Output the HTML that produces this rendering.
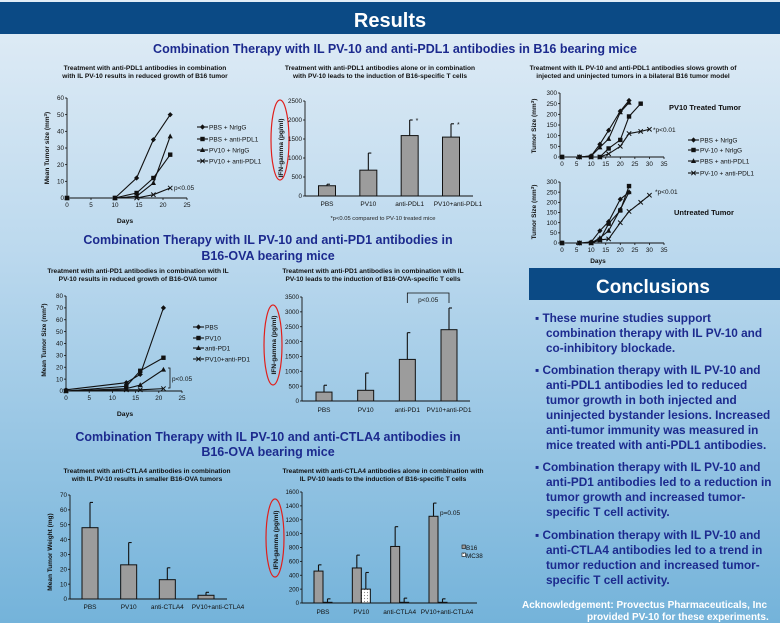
<!DOCTYPE html>
<html><head><meta charset="utf-8">
<style>
html,body{margin:0;padding:0;}
body{width:780px;height:623px;overflow:hidden;font-family:"Liberation Sans",Arial,sans-serif;}
svg text{font-family:"Liberation Sans",Arial,sans-serif;}
</style></head>
<body>
<svg id="poster" width="780" height="623" viewBox="0 0 780 623" xmlns="http://www.w3.org/2000/svg">
<defs>
<linearGradient id="bg" x1="0" y1="0" x2="0" y2="1">
<stop offset="0" stop-color="#e2edf6"/><stop offset="0.4" stop-color="#bcd9ee"/><stop offset="1" stop-color="#74b3da"/>
</linearGradient>
<pattern id="dots" width="3" height="3" patternUnits="userSpaceOnUse"><rect width="3" height="3" fill="#fff"/><circle cx="1.5" cy="1.5" r="0.6" fill="#888"/></pattern>
</defs>
<rect width="780" height="623" fill="url(#bg)"/>
<rect x="0" y="2" width="780" height="32" fill="#0b4a85"/>
<text x="390" y="27" text-anchor="middle" font-size="20" font-weight="bold" fill="#fff">Results</text>
<text x="395" y="53" text-anchor="middle" font-size="12.5" font-weight="bold" fill="#1c2a8e">Combination Therapy with IL PV-10 and anti-PDL1 antibodies in B16 bearing mice</text>
<text x="268" y="244" text-anchor="middle" font-size="12.5" font-weight="bold" fill="#1c2a8e">Combination Therapy with IL PV-10 and anti-PD1 antibodies in</text>
<text x="268" y="260" text-anchor="middle" font-size="12.5" font-weight="bold" fill="#1c2a8e">B16-OVA bearing mice</text>
<text x="268" y="441" text-anchor="middle" font-size="12.5" font-weight="bold" fill="#1c2a8e">Combination Therapy with IL PV-10 and anti-CTLA4 antibodies in</text>
<text x="268" y="456" text-anchor="middle" font-size="12.5" font-weight="bold" fill="#1c2a8e">B16-OVA bearing mice</text>

<g font-size="6.6" font-weight="bold" fill="#111" text-anchor="middle">
<text x="145" y="70">Treatment with anti-PDL1 antibodies in combination</text>
<text x="145" y="78">with IL PV-10 results in reduced growth of B16 tumor</text>
<text x="380" y="70">Treatment with anti-PDL1 antibodies alone or in combination</text>
<text x="380" y="78">with PV-10 leads to the induction of B16-specific T cells</text>
<text x="633" y="70">Treatment with IL PV-10 and anti-PDL1 antibodies slows growth of</text>
<text x="633" y="78">injected and uninjected tumors in a bilateral B16 tumor model</text>
<text x="138" y="273">Treatment with anti-PD1 antibodies in combination with IL</text>
<text x="138" y="281">PV-10 results in reduced growth of B16-OVA tumor</text>
<text x="373" y="273">Treatment with anti-PD1 antibodies in combination with IL</text>
<text x="373" y="281">PV-10 leads to the induction of B16-OVA-specific T cells</text>
<text x="147" y="473">Treatment with anti-CTLA4 antibodies in combination</text>
<text x="147" y="481">with IL PV-10 results in smaller B16-OVA tumors</text>
<text x="383" y="473">Treatment with anti-CTLA4 antibodies alone in combination with</text>
<text x="383" y="481">IL PV-10 leads to the induction of B16-specific T cells</text>
</g>

<g fill="none" stroke="#e0201c" stroke-width="1.2">
<ellipse cx="280" cy="140" rx="9" ry="40"/>
<ellipse cx="273" cy="345" rx="9" ry="40"/>
<ellipse cx="275" cy="538" rx="9" ry="39"/>
</g>

<g font-size="7.5" font-weight="bold" fill="#111">
<text x="669" y="110">PV10 Treated Tumor</text>
<text x="674" y="215">Untreated Tumor</text>
</g>
<text x="383" y="220" text-anchor="middle" font-size="5.8" fill="#222">*p&lt;0.05 compared to PV-10 treated mice</text>

<rect x="529" y="268" width="251" height="32" fill="#0b4a85"/>
<text x="653" y="293" text-anchor="middle" font-size="19" font-weight="bold" fill="#fff">Conclusions</text>
<g font-size="11.8" font-weight="bold" fill="#1c2a8e">
<text x="535" y="322">▪ These murine studies support</text>
<text x="546" y="337">combination therapy with IL PV-10 and</text>
<text x="546" y="352">co-inhibitory blockade.</text>
<text x="535" y="374">▪ Combination therapy with IL PV-10 and</text>
<text x="546" y="389">anti-PDL1 antibodies led to reduced</text>
<text x="546" y="404">tumor growth in both injected and</text>
<text x="546" y="419">uninjected bystander lesions.  Increased</text>
<text x="546" y="434">anti-tumor immunity was measured in</text>
<text x="546" y="449">mice treated with anti-PDL1 antibodies.</text>
<text x="535" y="471">▪ Combination therapy with IL PV-10 and</text>
<text x="546" y="486">anti-PD1 antibodies led to a reduction in</text>
<text x="546" y="501">tumor growth and increased tumor-</text>
<text x="546" y="516">specific T cell activity.</text>
<text x="535" y="539">▪ Combination therapy with IL PV-10 and</text>
<text x="546" y="554">anti-CTLA4 antibodies led to a trend in</text>
<text x="546" y="569">tumor reduction and increased tumor-</text>
<text x="546" y="584">specific T cell activity.</text>
</g>
<g font-size="10" font-weight="bold" fill="#fff">
<text x="522" y="608">Acknowledgement: Provectus Pharmaceuticals, Inc</text>
<text x="587" y="620">provided  PV-10 for these experiments.</text>
</g>
<g id="charts"></g>
</svg>
<script>
// ---- data ----
const c1Labels = ["PBS + NrlgG","PBS + anti-PDL1","PV10 + NrlgG","PV10 + anti-PDL1"];
const c1Days = [0,10,14.5,18,21.5];
const c1S1 = [0,0,12,35,50];
const c1S2 = [0,0,3,12,26];
const c1S3 = [0,0,1,9,37];
const c1S4 = [0,0,0,2,6];
const c1XTicks = [0,5,10,15,20,25];
const c1YTicks = [0,10,20,30,40,50,60];

const c2Cats = ["PBS","PV10","anti-PDL1","PV10+anti-PDL1"];
const c2Vals = [270,680,1590,1550];
const c2Err = [310,1130,2000,1900];
const c2YTicks = [0,500,1000,1500,2000,2500];

const c3Labels = ["PBS + NrlgG","PV-10 + NrlgG","PBS + anti-PDL1","PV-10 + anti-PDL1"];
const c3XTicks = [0,5,10,15,20,25,30,35];
const c3YTicks = [0,50,100,150,200,250,300];
const c3aDays1 = [0,6,10,13,16,20,23];
const c3aS1 = [0,0,5,60,125,215,265];
const c3aDays2 = [0,6,10,13,16,20,23,27];
const c3aS2 = [0,0,0,0,40,80,190,250];
const c3aDays3 = [0,6,10,13,16,20,23];
const c3aS3 = [0,0,5,45,85,210,255];
const c3aDays4 = [0,6,10,13,16,20,23,27,30];
const c3aS4 = [0,0,0,0,15,50,110,120,130];
const c3bS1 = [0,0,5,60,105,215,250];
const c3bDays2 = [0,6,10,13,16,20,23];
const c3bS2 = [0,0,0,15,95,160,280];
const c3bS3 = [0,0,0,25,60,165,250];
const c3bS4 = [0,0,0,15,20,100,155,200,235];

const c4Labels = ["PBS","PV10","anti-PD1","PV10+anti-PD1"];
const c4Days = [0,13,16,21];
const c4S1 = [1,7,14,70];
const c4S2 = [0,4,17,28];
const c4S3 = [0,2,5,18];
const c4S4 = [0,1,1,2];
const c4XTicks = [0,5,10,15,20,25];
const c4YTicks = [0,10,20,30,40,50,60,70,80];

const c5Cats = ["PBS","PV10","anti-PD1","PV10+anti-PD1"];
const c5Vals = [300,360,1400,2400];
const c5Err = [530,940,2300,3130];
const c5YTicks = [0,500,1000,1500,2000,2500,3000,3500];

const c6Cats = ["PBS","PV10","anti-CTLA4","PV10+anti-CTLA4"];
const c6Vals = [48,23,13,2.5];
const c6Err = [65,38,21,4.5];
const c6YTicks = [0,10,20,30,40,50,60,70];

const c7Cats = ["PBS","PV10","anti-CTLA4","PV10+anti-CTLA4"];
const c7B16 = [460,505,815,1250];
const c7B16Err = [550,690,1100,1440];
const c7MC38 = [10,200,10,10];
const c7MC38Err = [60,440,70,60];
const c7YTicks = [0,200,400,600,800,1000,1200,1400,1600];

// ---- helpers ----
const NS = "http://www.w3.org/2000/svg";
const root = document.getElementById("charts");
function mk(tag, attrs, parent){
  const e = document.createElementNS(NS, tag);
  for (const k in attrs) e.setAttribute(k, attrs[k]);
  (parent||root).appendChild(e);
  return e;
}
function txt(parent, x, y, s, size, anchor, extra){
  const t = mk("text", Object.assign({x:x, y:y, "font-size":size, "text-anchor":anchor||"middle", fill:"#111"}, extra||{}), parent);
  t.textContent = s;
  return t;
}
function scale(d0,d1,r0,r1){ return v => r0 + (v-d0)/(d1-d0)*(r1-r0); }

function marker(g, type, x, y){
  let m;
  if (type==="diamond") m = mk("polygon",{points:`${x},${y-2.6} ${x+2.6},${y} ${x},${y+2.6} ${x-2.6},${y}`,fill:"#111"},g);
  else if (type==="square") m = mk("rect",{x:x-2.2,y:y-2.2,width:4.4,height:4.4,fill:"#111"},g);
  else if (type==="triangle") m = mk("polygon",{points:`${x},${y-2.8} ${x+2.6},${y+2} ${x-2.6},${y+2}`,fill:"#111"},g);
  else m = mk("path",{d:`M${x-2.2},${y-2.2}L${x+2.2},${y+2.2}M${x+2.2},${y-2.2}L${x-2.2},${y+2.2}`,stroke:"#111","stroke-width":1},g);
  return m;
}
const MK = ["diamond","square","triangle","x"];

function axes(g, sx, sy, xTicks, yTicks, x0, x1, y0, y1, fs){
  const ya = mk("line",{x1:x0,y1:y0,x2:x0,y2:y1,stroke:"#111","stroke-width":0.9},g);
  
  
  const xa = mk("line",{x1:x0,y1:y0,x2:x1,y2:y0,stroke:"#111","stroke-width":0.9},g);
  
  
  yTicks.forEach(v=>{
    const y = sy(v);
    mk("line",{x1:x0-2,y1:y,x2:x0,y2:y,stroke:"#111","stroke-width":0.8},g);
    const t = txt(g, x0-3, y+2.2, String(v), fs, "end");
    
    
  });
  if (xTicks) xTicks.forEach(v=>{
    const x = sx(v);
    mk("line",{x1:x,y1:y0,x2:x,y2:y0+2,stroke:"#111","stroke-width":0.8},g);
    const t = txt(g, x, y0+9, String(v), fs, "middle");
    
    
  });
}

function lineSeries(g, sx, sy, xs, ys, mtype, name){
  const pts = xs.map((d,i)=>sx(d)+","+sy(ys[i])).join(" ");
  const pl = mk("polyline",{points:pts,fill:"none",stroke:"#111","stroke-width":1.1},g);
  
  
  xs.forEach((d,i)=>{
    const m = marker(g, mtype, sx(d), sy(ys[i]));
    
    
  });
}

function legend(g, labels, x, ys, fs){
  labels.forEach((l,i)=>{
    const e = mk("g",{},g);
    
    
    mk("line",{x1:x,y1:ys[i],x2:x+11,y2:ys[i],stroke:"#111","stroke-width":1.1},e);
    marker(e, MK[i], x+5.5, ys[i]);
    txt(e, x+12, ys[i]+2.5, l, fs, "start");
  });
}

function ytitle(g, x, y, s, fs){
  const t = txt(g, x, y, "", fs, "middle", {transform:`rotate(-90 ${x} ${y})`,"font-weight":"bold"});
  t.innerHTML = s;
  
  
  return t;
}
function xtitle(g, x, y, s, fs){
  const t = txt(g, x, y, s, fs, "middle", {"font-weight":"bold"});
  
  
}

function bars(g, sx, sy, vals, errs, w, fill, name, offset){
  vals.forEach((v,i)=>{
    const cx = sx(i)+(offset||0);
    const e = mk("line",{x1:cx,y1:sy(v),x2:cx,y2:sy(errs[i]),stroke:"#111","stroke-width":1.1},g);
    
    
    mk("line",{x1:cx,y1:sy(errs[i]),x2:cx+3,y2:sy(errs[i]),stroke:"#111","stroke-width":1.1},g);
    const r = mk("rect",{x:cx-w/2,y:sy(v),width:w,height:Math.max(0.5,sy(0)-sy(v)),fill:fill,stroke:"#111","stroke-width":1},g);
    
    
  });
}
function catLabels(g, sx, cats, y, fs, lastShift){
  cats.forEach((c,i)=>{
    const t = txt(g, sx(i) + (i===cats.length-1 ? lastShift : 0), y, c, fs, "middle");
    
    
  });
}

// ---- chart 1 ----
{
  const g = mk("g",{});
  
  
  const sx = scale(0,25,67,187), sy = scale(0,60,198,98);
  axes(g,sx,sy,c1XTicks,c1YTicks,67,187,198,98,6.3);
  [c1S1,c1S2,c1S3,c1S4].forEach((s,i)=>lineSeries(g,sx,sy,c1Days,s,MK[i],'pdl1-series-'+(i+1)));
  legend(g,c1Labels,197,[127,139,150,161],6.5);
  ytitle(g,49,148,'Mean Tumor size (mm<tspan font-size="4.5" dy="-2">3</tspan><tspan dy="2">)</tspan>',6.5);
  xtitle(g,125,223,"Days",6.8);
  const p = txt(g,174,190,"p<0.05",6.5,"start");
  
  
}
// ---- chart 2 ----
{
  const g = mk("g",{});
  
  
  const sx = scale(0,3,327,451), sy = scale(0,2500,196,101);
  axes(g,sx,sy,null,c2YTicks,305,473,196,101,6.3);
  bars(g,sx,sy,c2Vals,c2Err,17,"#9c9c9c","pdl1-ifn");
  catLabels(g,sx,c2Cats,206,6.5,7);
  [2,3].forEach(i=>{
    const s = txt(g,sx(i)+6,sy(c2Err[i])+3,"*",7,"start");
    
    
  });
  ytitle(g,283,148,"IFN-gamma (pg/ml)",6.5);
}
// ---- chart 3 ----
{
  const g = mk("g",{});
  
  
  const sx = scale(0,35,562,664);
  const sya = scale(0,300,157,93), syb = scale(0,300,243,182);
  axes(g,sx,sya,c3XTicks,c3YTicks,560,664,157,93,6.3);
  axes(g,sx,syb,c3XTicks,c3YTicks,560,664,243,182,6.3);
  lineSeries(g,sx,sya,c3aDays1,c3aS1,MK[0],'treated-pbs-nrlgg');
  lineSeries(g,sx,sya,c3aDays2,c3aS2,MK[1],'treated-pv10-nrlgg');
  lineSeries(g,sx,sya,c3aDays3,c3aS3,MK[2],'treated-pbs-pdl1');
  lineSeries(g,sx,sya,c3aDays4,c3aS4,MK[3],'treated-pv10-pdl1');
  lineSeries(g,sx,syb,c3aDays1,c3bS1,MK[0],'untreated-pbs-nrlgg');
  lineSeries(g,sx,syb,c3bDays2,c3bS2,MK[1],'untreated-pv10-nrlgg');
  lineSeries(g,sx,syb,c3aDays3,c3bS3,MK[2],'untreated-pbs-pdl1');
  lineSeries(g,sx,syb,c3aDays4,c3bS4,MK[3],'untreated-pv10-pdl1');
  legend(g,c3Labels,688,[140,150,161,173],6.5);
  ytitle(g,536,126,'Tumor Size (mm<tspan font-size="4.5" dy="-2">3</tspan><tspan dy="2">)</tspan>',6.5);
  ytitle(g,536,212,'Tumor Size (mm<tspan font-size="4.5" dy="-2">3</tspan><tspan dy="2">)</tspan>',6.5);
  xtitle(g,598,263,"Days",6.5);
  const p1 = txt(g,653,132,"*p<0.01",6.5,"start");
  
  
  const p2 = txt(g,655,194,"*p<0.01",6.5,"start");
  
  
}
// ---- chart 4 ----
{
  const g = mk("g",{});
  
  
  const sx = scale(0,25,66,182), sy = scale(0,80,391,296);
  axes(g,sx,sy,c4XTicks,c4YTicks,66,182,391,296,6.3);
  [c4S1,c4S2,c4S3,c4S4].forEach((s,i)=>lineSeries(g,sx,sy,c4Days,s,MK[i],'pd1-series-'+(i+1)));
  legend(g,c4Labels,193,[327,338,348,359],6.5);
  ytitle(g,46,340,'Mean Tumor Size (mm<tspan font-size="4.5" dy="-2">3</tspan><tspan dy="2">)</tspan>',6.5);
  xtitle(g,125,416,"Days",6.8);
  const br = mk("path",{d:"M168,368 L170,368 L170,388 L168,388",fill:"none",stroke:"#111","stroke-width":0.8},g);
  
  
  const p = txt(g,172,381,"p<0.05",6.5,"start");
  
  
}
// ---- chart 5 ----
{
  const g = mk("g",{});
  
  
  const sx = scale(0,3,324,449), sy = scale(0,3500,401,297);
  axes(g,sx,sy,null,c5YTicks,302,470,401,297,6.3);
  bars(g,sx,sy,c5Vals,c5Err,16,"#9c9c9c","pd1-ifn");
  catLabels(g,sx,c5Cats,412,6.5,0);
  const br = mk("path",{d:`M${sx(2)},303 L${sx(2)},293 L${sx(3)},293 L${sx(3)},303`,fill:"none",stroke:"#111","stroke-width":0.8},g);
  
  
  const p = txt(g,(sx(2)+sx(3))/2,302,"p<0.05",6.5,"middle");
  
  
  ytitle(g,276,345,"IFN-gamma (pg/ml)",6.5);
}
// ---- chart 6 ----
{
  const g = mk("g",{});
  
  
  const sx = scale(0,3,90,206), sy = scale(0,70,599,495);
  axes(g,sx,sy,null,c6YTicks,70,227,599,495,6.3);
  bars(g,sx,sy,c6Vals,c6Err,16,"#9c9c9c","ctla4-weight");
  catLabels(g,sx,c6Cats,609,6.5,12);
  ytitle(g,52,552,"Mean Tumor Weight (mg)",6.5);
}
// ---- chart 7 ----
{
  const g = mk("g",{});
  
  
  const sx = scale(0,3,323,438), sy = scale(0,1600,603,492);
  axes(g,sx,sy,null,c7YTicks,302,477,603,492,6.1);
  bars(g,sx,sy,c7B16,c7B16Err,9,"#9c9c9c","b16",-4.5);
  bars(g,sx,sy,c7MC38,c7MC38Err,9,"url(#dots)","mc38",4.5);
  catLabels(g,sx,c7Cats,614,6.5,9);
  const lg1 = mk("g",{},g);
  
  
  mk("rect",{x:462,y:545,width:3.5,height:3.5,fill:"#9c9c9c",stroke:"#111","stroke-width":0.6},lg1);
  txt(lg1,466,550,"B16",6.3,"start");
  const lg2 = mk("g",{},g);
  
  
  mk("rect",{x:462,y:553,width:3.5,height:3.5,fill:"url(#dots)",stroke:"#111","stroke-width":0.6},lg2);
  txt(lg2,466,558,"MC38",6.3,"start");
  const p = txt(g,440,515,"p=0.05",6.5,"start");
  
  
  ytitle(g,278,540,"IFN-gamma (pg/ml)",6.5);
}
</script>
</body></html>
